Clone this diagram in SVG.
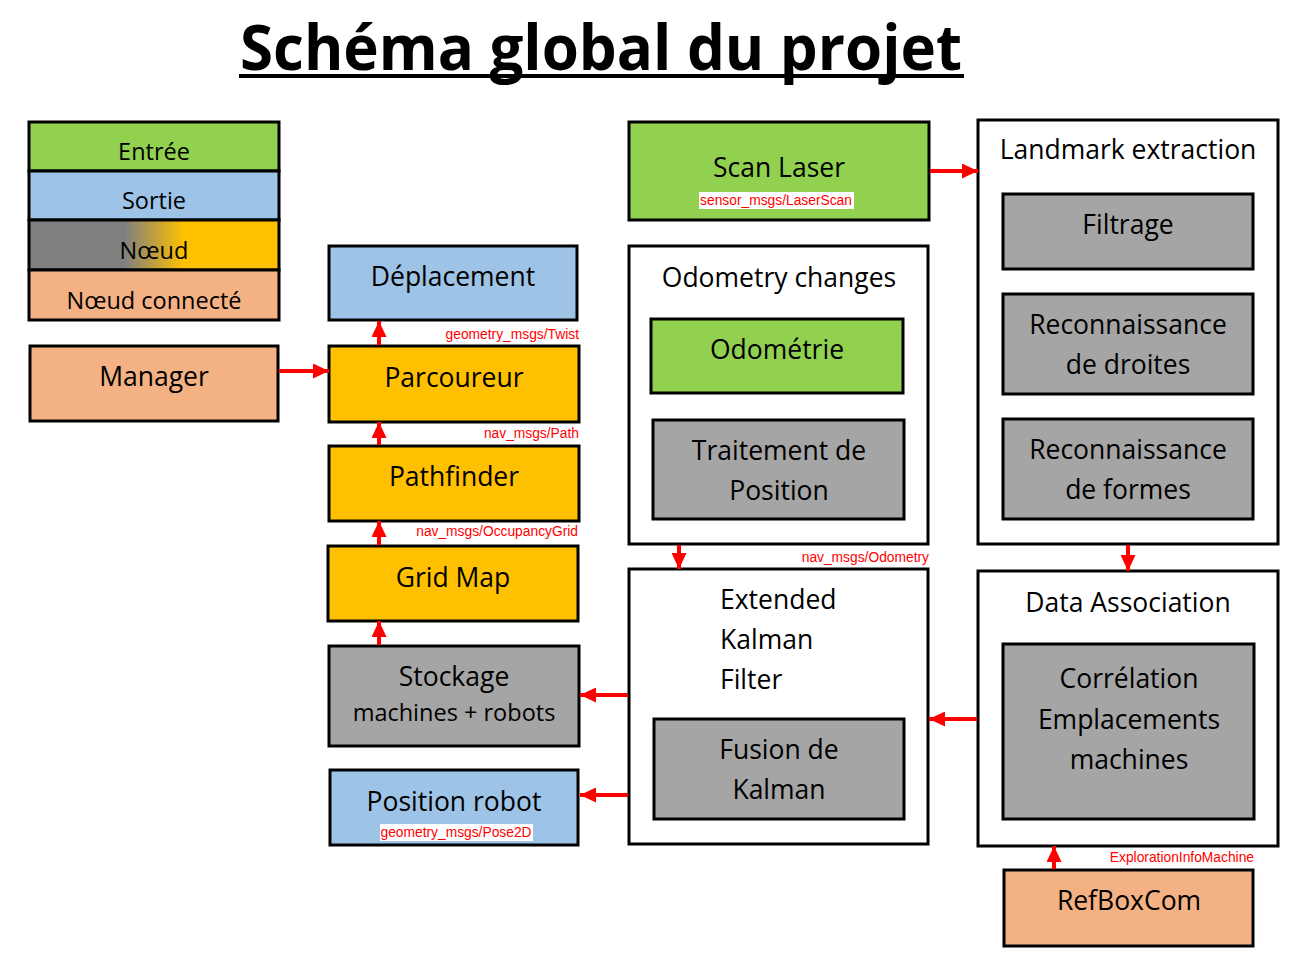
<svg xmlns="http://www.w3.org/2000/svg" width="1304" height="976" viewBox="0 0 1304 976">
<defs>
<linearGradient id="gNode" x1="0" y1="0" x2="1" y2="0">
<stop offset="0.38" stop-color="#7F7F7F"/>
<stop offset="0.62" stop-color="#FFC000"/>
</linearGradient>
<marker id="ah" viewBox="0 0 16 15" refX="16" refY="7.5" markerWidth="4" markerHeight="3.75" markerUnits="strokeWidth" orient="auto">
<path d="M0,0 L16,7.5 L0,15 z" fill="#FF0000"/>
</marker>
</defs>
<style>
.b{stroke:#000;stroke-width:3}
.in{fill:#92D050}
.out{fill:#9DC3E6}
.nd{fill:#FFC000}
.gr{fill:#A5A5A5}
.cn{fill:#F4B183}
.wh{fill:#FFFFFF}
text{font-family:"Open Sans","Liberation Sans",sans-serif;fill:#000}
.t{font-size:26.5px;text-anchor:middle}
.lg{font-size:23.5px;text-anchor:middle}
.tl{font-size:26.5px}
.s{font-family:"Liberation Sans",Arial,sans-serif;font-size:13.8px;fill:#FF0000}
.se{text-anchor:end}
.sm{text-anchor:middle}
.c{stroke:#FF0000;stroke-width:4;fill:none;marker-end:url(#ah)}
</style>
<rect width="1304" height="976" fill="#FFFFFF"/>
<g id="title">
<text x="601" y="70" text-anchor="middle" font-size="62" font-weight="bold" textLength="722" lengthAdjust="spacingAndGlyphs">Schéma global du projet</text>
<rect x="239" y="74" width="725" height="4" fill="#000"/>
</g>
<g id="legend">
<rect class="b in" x="29" y="122" width="250" height="49"/>
<text class="lg" x="154" y="160">Entrée</text>
<rect class="b out" x="29" y="171" width="250" height="49"/>
<text class="lg" x="154" y="209">Sortie</text>
<rect class="b" fill="url(#gNode)" x="29" y="220" width="250" height="50"/>
<text class="lg" x="154" y="259">Nœud</text>
<rect class="b cn" x="29" y="270" width="250" height="50"/>
<text class="lg" x="154" y="309">Nœud connecté</text>
</g>
<g id="manager">
<rect class="b cn" x="30" y="346" width="248" height="75"/>
<text class="t" x="154" y="386">Manager</text>
</g>
<g id="deplacement">
<rect class="b out" x="329" y="246" width="248" height="74"/>
<text class="t" x="453" y="286">Déplacement</text>
</g>
<g id="parcoureur">
<rect class="b nd" x="329" y="346" width="250" height="76"/>
<text class="t" x="454" y="387">Parcoureur</text>
</g>
<g id="pathfinder">
<rect class="b nd" x="329" y="446" width="250" height="75"/>
<text class="t" x="454" y="486">Pathfinder</text>
</g>
<g id="gridmap">
<rect class="b nd" x="328" y="546" width="250" height="75"/>
<text class="t" x="453" y="587">Grid Map</text>
</g>
<g id="stockage">
<rect class="b gr" x="329" y="646" width="250" height="100"/>
<text class="t" x="454" y="686">Stockage</text>
<text class="lg" x="454" y="721" font-size="20.7">machines + robots</text>
</g>
<g id="positionrobot">
<rect class="b out" x="330" y="770" width="248" height="75"/>
<text class="t" x="454" y="811">Position robot</text>
<rect x="380" y="824" width="153" height="17" fill="#FFFFFF"/>
<text class="s sm" x="456" y="837">geometry_msgs/Pose2D</text>
</g>
<g id="scanlaser">
<rect class="b in" x="629" y="122" width="300" height="98"/>
<text class="t" x="779" y="177">Scan Laser</text>
<rect x="699" y="192" width="155" height="17" fill="#FFFFFF"/>
<text class="s sm" x="776" y="205">sensor_msgs/LaserScan</text>
</g>
<g id="odometrychanges">
<rect class="b wh" x="629" y="246" width="299" height="298"/>
<text class="t" x="779" y="287">Odometry changes</text>
<g id="odometrie">
<rect class="b in" x="651" y="319" width="252" height="74"/>
<text class="t" x="777" y="359">Odométrie</text>
</g>
<g id="traitement">
<rect class="b gr" x="653" y="420" width="251" height="99"/>
<text class="t" x="779" y="460">Traitement de</text>
<text class="t" x="779" y="500">Position</text>
</g>
</g>
<g id="landmark">
<rect class="b wh" x="978" y="120" width="300" height="424"/>
<text class="t" x="1128" y="159">Landmark extraction</text>
<g id="filtrage">
<rect class="b gr" x="1003" y="194" width="250" height="75"/>
<text class="t" x="1128" y="234">Filtrage</text>
</g>
<g id="droites">
<rect class="b gr" x="1003" y="294" width="250" height="100"/>
<text class="t" x="1128" y="334">Reconnaissance</text>
<text class="t" x="1128" y="374">de droites</text>
</g>
<g id="formes">
<rect class="b gr" x="1003" y="419" width="250" height="100"/>
<text class="t" x="1128" y="459">Reconnaissance</text>
<text class="t" x="1128" y="499">de formes</text>
</g>
</g>
<g id="ekf">
<rect class="b wh" x="629" y="569" width="299" height="275"/>
<text class="tl" x="720" y="609">Extended</text>
<text class="tl" x="720" y="649">Kalman</text>
<text class="tl" x="720" y="689">Filter</text>
<g id="fusion">
<rect class="b gr" x="654" y="719" width="250" height="100"/>
<text class="t" x="779" y="759">Fusion de</text>
<text class="t" x="779" y="799">Kalman</text>
</g>
</g>
<g id="dataassociation">
<rect class="b wh" x="978" y="571" width="300" height="275"/>
<text class="t" x="1128" y="612">Data Association</text>
<g id="correlation">
<rect class="b gr" x="1003" y="644" width="251" height="175"/>
<text class="t" x="1129" y="688">Corrélation</text>
<text class="t" x="1129" y="729">Emplacements</text>
<text class="t" x="1129" y="769">machines</text>
</g>
</g>
<g id="refboxcom">
<rect class="b cn" x="1004" y="870" width="249" height="76"/>
<text class="t" x="1129" y="910">RefBoxCom</text>
</g>
<g id="connectors">
<line class="c" x1="279" y1="371" x2="329" y2="371"/>
<line class="c" x1="379" y1="345" x2="379" y2="321"/>
<line class="c" x1="379" y1="445" x2="379" y2="422"/>
<line class="c" x1="379" y1="545" x2="379" y2="521"/>
<line class="c" x1="379" y1="645" x2="379" y2="621"/>
<line class="c" x1="628" y1="695" x2="580" y2="695"/>
<line class="c" x1="628" y1="795" x2="580" y2="795"/>
<line class="c" x1="930" y1="171" x2="978" y2="171"/>
<line class="c" x1="679" y1="545" x2="679" y2="569"/>
<line class="c" x1="1128" y1="545" x2="1128" y2="571"/>
<line class="c" x1="977" y1="719" x2="929" y2="719"/>
<line class="c" x1="1054" y1="869" x2="1054" y2="846"/>
<text class="s se" x="579" y="339">geometry_msgs/Twist</text>
<text class="s se" x="579" y="438">nav_msgs/Path</text>
<text class="s se" x="578" y="536">nav_msgs/OccupancyGrid</text>
<text class="s se" x="929" y="562">nav_msgs/Odometry</text>
<text class="s se" x="1254" y="862">ExplorationInfoMachine</text>
</g>
</svg>
